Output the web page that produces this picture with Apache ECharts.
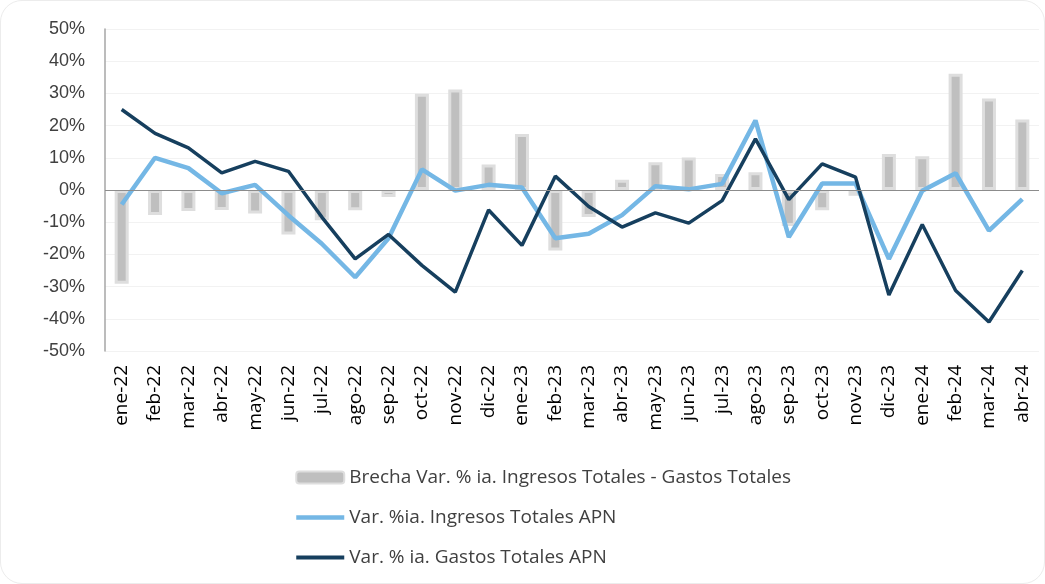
<!DOCTYPE html>
<html>
<head>
<meta charset="utf-8">
<script src="https://cdn.jsdelivr.net/npm/echarts@6/dist/echarts.min.js"></script>
<style>
    html, body {
        margin: 0;
        padding: 0;
        background: #ffffff;
    }
    .chart-frame {
        position: absolute;
        left: 0;
        top: 0;
        width: 1043px;
        height: 582px;
        border: 1px solid #ececec;
        border-radius: 22px;
        overflow: hidden;
    }
    #chart {
        width: 1045px;
        height: 584px;
    }
</style>
</head>
<body>
<div class="chart-frame"></div>
<div id="chart"></div>
<script>
// meses
const months = [
    'ene-22', 'feb-22', 'mar-22', 'abr-22', 'may-22', 'jun-22', 'jul-22', 'ago-22', 'sep-22', 'oct-22', 'nov-22', 'dic-22',
    'ene-23', 'feb-23', 'mar-23', 'abr-23', 'may-23', 'jun-23', 'jul-23', 'ago-23', 'sep-23', 'oct-23', 'nov-23', 'dic-23',
    'ene-24', 'feb-24', 'mar-24', 'abr-24'
]
// brecha ingresos - gastos (%)
const brecha = [
    -29.1, -7.8, -6.5, -6.2, -7.3, -13.8, -9.4, -6.3, -2.2, 29.9, 31.2, 7.9,
    17.4, -18.8, -8.4, 3.2, 8.6, 10.1, 5.0, 5.5, -11.2, -6.3, -1.8, 11.2,
    10.5, 36.1, 28.4, 21.9
]
// var. % ia. ingresos totales APN
const ingresos = [
    -4.5, 10.0, 6.8, -1.0, 1.6, -7.9, -16.7, -27.1, -15.0, 6.4, -0.2, 1.6,
    0.8, -15.0, -13.6, -7.8, 1.2, 0.2, 1.9, 21.6, -14.6, 2.0, 2.0, -21.4,
    -0.2, 5.2, -12.6, -2.8
]
// var. % ia. gastos totales APN
const gastos = [
    25.0, 17.6, 13.1, 5.3, 8.9, 5.8, -8.4, -21.4, -13.8, -23.4, -31.7, -6.2,
    -17.2, 4.3, -5.1, -11.5, -7.1, -10.3, -3.3, 15.9, -3.0, 8.1, 4.0, -32.6,
    -10.7, -31.2, -41.0, -25.0
]
const yTicks = { min: -50, max: 50, step: 10 }

const chart = echarts.init(document.getElementById('chart'))
const textColor = '#404040'
const fontName = 'Liberation Sans'

const option = {
    animation: false,
    textStyle: { fontFamily: fontName },
    grid: {
        left: 105,
        right: 6,
        top: 29,
        bottom: 233
    },
    legend: {
        orient: 'vertical',
        left: 289,
        top: 463,
        itemWidth: 48,
        itemHeight: 12,
        itemGap: 21,
        textStyle: { fontSize: 19, color: textColor, fontFamily: 'Open Sans' },
        data: [
            { name: 'Brecha Var. % ia. Ingresos Totales - Gastos Totales' },
            {
                name: 'Var. %ia. Ingresos Totales APN',
                itemStyle: { opacity: 0 },
                lineStyle: { width: 4.5 }
            },
            {
                name: 'Var. % ia. Gastos Totales APN',
                itemStyle: { opacity: 0 },
                lineStyle: { width: 4 }
            }
        ]
    },
    xAxis: {
        type: 'category',
        data: months,
        axisLine: { show: false },
        axisTick: { show: false },
        axisLabel: {
            rotate: 90,
            interval: 0,
            margin: 14,
            fontSize: 19,
            fontFamily: 'Open Sans',
            color: '#000000'
        }
    },
    yAxis: {
        type: 'value',
        min: yTicks.min,
        max: yTicks.max,
        interval: yTicks.step,
        axisLine: { show: true, lineStyle: { color: '#a6a6a6', width: 1.5 } },
        axisTick: { show: false },
        axisLabel: {
            formatter: '{value}%',
            fontSize: 18,
            color: textColor,
            margin: 20
        },
        splitLine: { lineStyle: { color: '#f2f2f2', width: 1 } }
    },
    series: [
        {
            name: 'Brecha Var. % ia. Ingresos Totales - Gastos Totales',
            type: 'bar',
            barWidth: 14,
            data: brecha,
            itemStyle: {
                color: '#bfbfbf',
                borderColor: '#dedede',
                borderWidth: 3
            },
            markLine: {
                silent: true,
                symbol: 'none',
                label: { show: false },
                lineStyle: { color: '#8c8c8c', width: 1, type: 'solid' },
                data: [{ yAxis: 0 }]
            }
        },
        {
            name: 'Var. %ia. Ingresos Totales APN',
            type: 'line',
            data: ingresos,
            symbol: 'none',
            lineStyle: { color: '#74b7e5', width: 4.5 },
            itemStyle: { color: '#74b7e5' }
        },
        {
            name: 'Var. % ia. Gastos Totales APN',
            type: 'line',
            data: gastos,
            symbol: 'none',
            lineStyle: { color: '#163f5e', width: 3.5 },
            itemStyle: { color: '#163f5e' }
        }
    ]
}

chart.setOption(option)
</script>
</body>
</html>
